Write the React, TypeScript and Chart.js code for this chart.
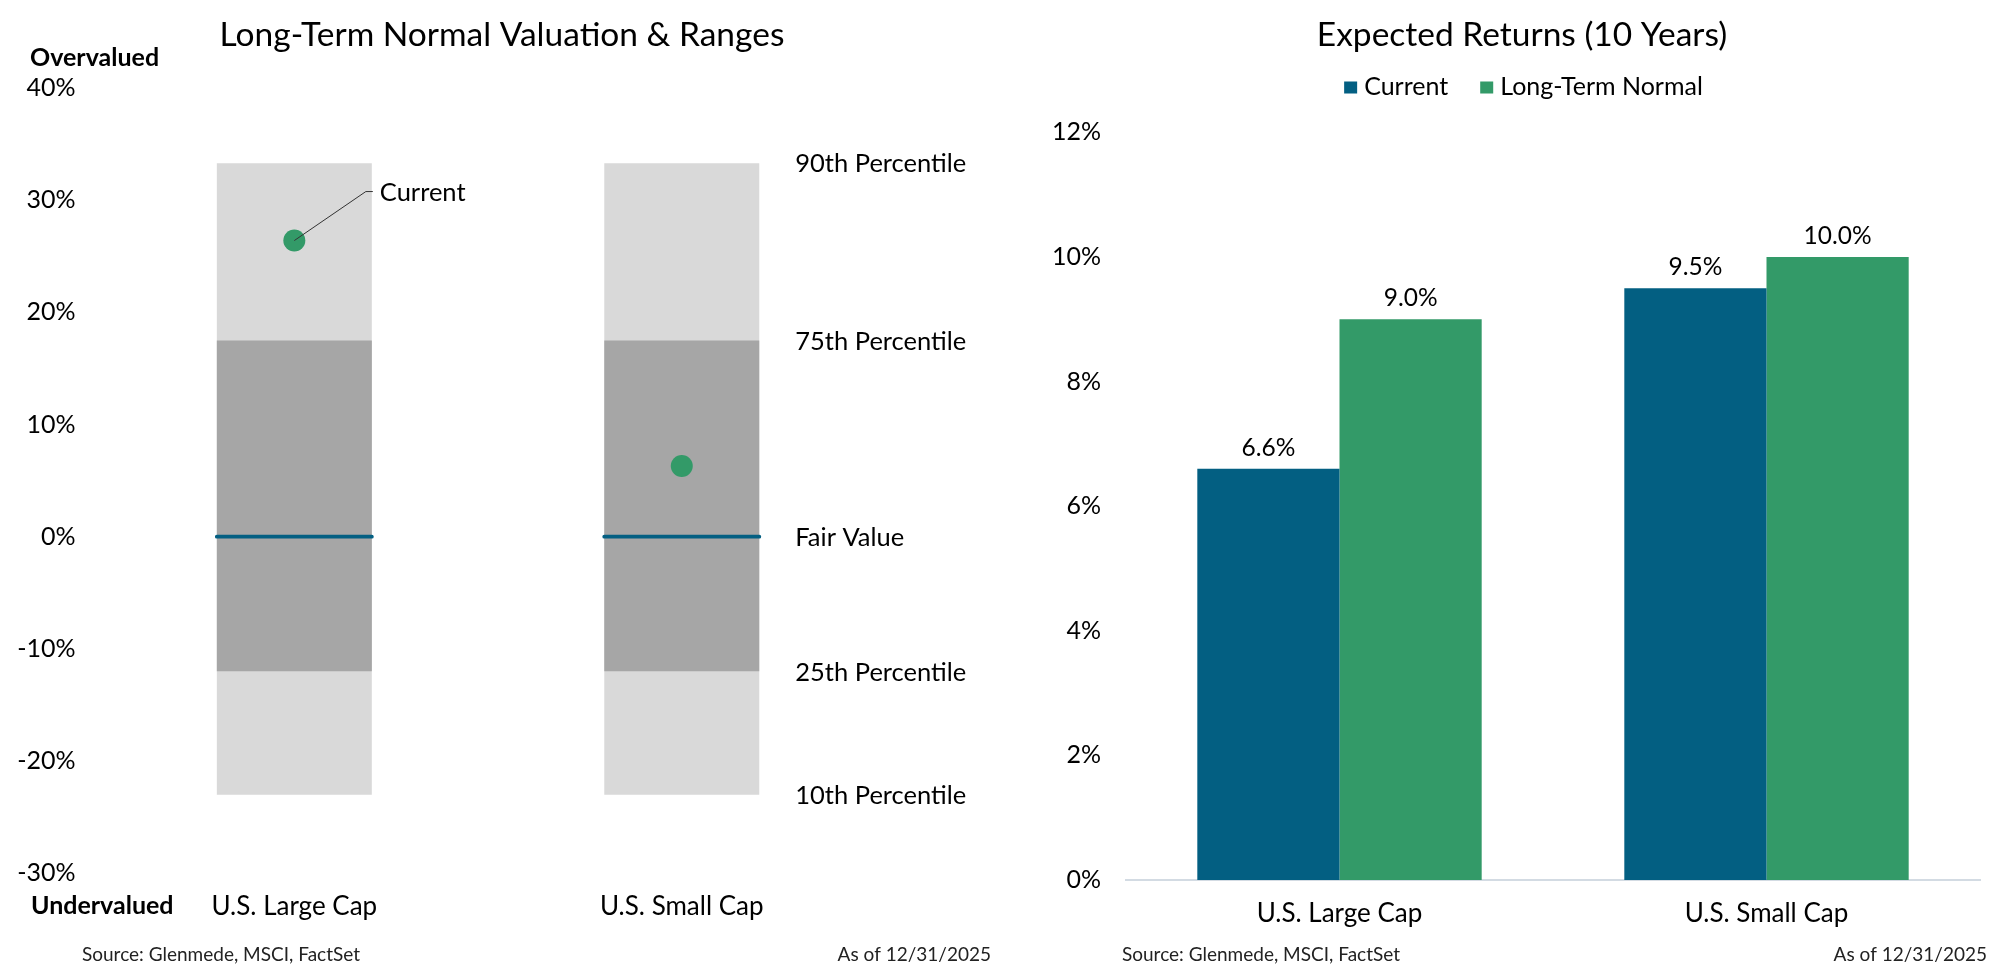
import React, { useEffect, useRef } from "react";
import { Chart, registerables } from "chart.js";

Chart.register(...registerables);
Chart.defaults.font.family = "Lato";

// ---- Left chart data: valuation ranges ----
const valCategories = ["U.S. Large Cap", "U.S. Small Cap"];
const pct10 = [-23, -23];
const pct25 = [-12, -12];
const pct75 = [17.5, 17.5];
const pct90 = [33.3, 33.3];
const fairValue = [0, 0];
const currentValuation = [26.4, 6.3];
const percentileLabels = ["90th Percentile", "75th Percentile", "Fair Value", "25th Percentile", "10th Percentile"];
const valMin = -30;
const valMax = 40;
const valStep = 10;

// ---- Right chart data: expected returns ----
const retCategories = ["U.S. Large Cap", "U.S. Small Cap"];
const retSeriesNames = ["Current", "Long-Term Normal"];
const retCurrent = [6.6, 9.5];
const retNormal = [9.0, 10.0];
const retMin = 0;
const retMax = 12;
const retStep = 2;

const BLUE = "#035f82";
const GREEN = "#339a68";
const LIGHT = "#d9d9d9";
const DARK = "#a6a6a6";
const TEXT = "#000000";

const leftTextPlugin = {
  id: "leftText",
  afterDraw(chart: any) {
    const { ctx } = chart;
    const y = chart.scales.y;
    ctx.save();
    ctx.fillStyle = TEXT;
    ctx.textBaseline = "alphabetic";
    ctx.font = "33.5px Lato";
    ctx.textAlign = "center";
    ctx.fillText("Long-Term Normal Valuation & Ranges", 502, 46);

    ctx.font = "bold 25px Lato";
    ctx.textAlign = "left";
    ctx.fillText("Overvalued", 30, 66);
    ctx.fillText("Undervalued", 31, 914);

    // percentile labels next to last bar
    const lightMeta = chart.getDatasetMeta(3);
    const last = valCategories.length - 1;
    const lastBar = lightMeta.data[last];
    const lx = lastBar.x + lastBar.width / 2 + 36;
    const vals = [pct90[last], pct75[last], fairValue[last], pct25[last], pct10[last]];
    ctx.font = "25.5px Lato";
    ctx.textBaseline = "middle";
    percentileLabels.forEach((t, i) => {
      ctx.fillText(t, lx, y.getPixelForValue(vals[i]) + 1);
    });

    // "Current" annotation for first point
    const dot = chart.getDatasetMeta(0).data[0];
    const bar0 = lightMeta.data[0];
    const right = bar0.x + bar0.width / 2;
    const ey = dot.y - 49;
    ctx.strokeStyle = "#333333";
    ctx.lineWidth = 1;
    ctx.beginPath();
    ctx.moveTo(dot.x, dot.y);
    ctx.lineTo(right - 6, ey);
    ctx.lineTo(right + 1, ey);
    ctx.stroke();
    ctx.textBaseline = "alphabetic";
    ctx.font = "25.5px Lato";
    ctx.fillText("Current", right + 8, ey + 9);

    // footer
    ctx.font = "19px Lato";
    ctx.fillStyle = "#222222";
    ctx.textAlign = "left";
    ctx.fillText("Source: Glenmede, MSCI, FactSet", 82, 961);
    ctx.textAlign = "right";
    ctx.fillText("As of 12/31/2025", 991, 961);
    ctx.restore();
  },
};

const rightTextPlugin = {
  id: "rightText",
  afterDraw(chart: any) {
    const { ctx } = chart;
    ctx.save();
    ctx.fillStyle = TEXT;
    ctx.textBaseline = "alphabetic";
    ctx.font = "33.5px Lato";
    ctx.textAlign = "center";
    ctx.fillText("Expected Returns (10 Years)", 522, 46);

    // legend
    ctx.font = "25px Lato";
    ctx.textAlign = "left";
    const colors = [BLUE, GREEN];
    const boxW = 13;
    const gapBox = 7;
    const gapItem = 32;
    let total = 0;
    const widths = retSeriesNames.map((n) => ctx.measureText(n).width);
    widths.forEach((w, i) => {
      total += boxW + gapBox + w + (i < widths.length - 1 ? gapItem : 0);
    });
    let lx = 523.5 - total / 2;
    retSeriesNames.forEach((n, i) => {
      ctx.fillStyle = colors[i];
      ctx.fillRect(lx, 81.5, boxW, 12);
      ctx.fillStyle = TEXT;
      ctx.fillText(n, lx + boxW + gapBox, 95);
      lx += boxW + gapBox + widths[i] + gapItem;
    });

    // data labels
    ctx.font = "24.5px Lato";
    ctx.textAlign = "center";
    chart.data.datasets.forEach((ds: any, di: number) => {
      const meta = chart.getDatasetMeta(di);
      meta.data.forEach((el: any, i: number) => {
        ctx.fillText(ds.data[i].toFixed(1) + "%", el.x, el.y - 13);
      });
    });

    // footer
    ctx.font = "19px Lato";
    ctx.fillStyle = "#222222";
    ctx.textAlign = "left";
    ctx.fillText("Source: Glenmede, MSCI, FactSet", 122, 961);
    ctx.textAlign = "right";
    ctx.fillText("As of 12/31/2025", 987, 961);
    ctx.restore();
  },
};

export default function App() {
  const leftRef = useRef<HTMLCanvasElement>(null);
  const rightRef = useRef<HTMLCanvasElement>(null);

  useEffect(() => {
    const left = new Chart(leftRef.current as HTMLCanvasElement, {
      type: "bar",
      data: {
        labels: valCategories,
        datasets: [
          {
            type: "line",
            label: "Current",
            data: currentValuation,
            showLine: false,
            pointRadius: 11,
            pointBackgroundColor: GREEN,
            pointBorderWidth: 0,
            borderColor: GREEN,
            order: 0,
          } as any,
          {
            label: "Fair Value",
            data: fairValue.map((v) => [v - 0.17, v + 0.17]),
            backgroundColor: BLUE,
            grouped: false,
            barPercentage: 0.41,
            categoryPercentage: 1,
            borderRadius: 2,
            borderSkipped: false,
            order: 1,
          } as any,
          {
            label: "25th-75th",
            data: pct25.map((v, i) => [v, pct75[i]]),
            backgroundColor: DARK,
            grouped: false,
            barPercentage: 0.4,
            categoryPercentage: 1,
            order: 2,
          } as any,
          {
            label: "10th-90th",
            data: pct10.map((v, i) => [v, pct90[i]]),
            backgroundColor: LIGHT,
            grouped: false,
            barPercentage: 0.4,
            categoryPercentage: 1,
            order: 3,
          } as any,
        ],
      },
      options: {
        responsive: false,
        animation: false,
        devicePixelRatio: 1,
        events: [],
        layout: { padding: { left: 0, right: 124.5, top: 88, bottom: 0 } },
        plugins: { legend: { display: false }, tooltip: { enabled: false }, title: { display: false } },
        scales: {
          x: {
            offset: true,
            grid: { display: false, drawTicks: false },
            border: { display: false },
            ticks: { color: TEXT, font: { size: 26, family: "Lato" }, padding: 18 },
            afterFit: (s: any) => {
              s.height = 106.8;
            },
          },
          y: {
            min: valMin,
            max: valMax,
            grid: { display: false, drawTicks: false },
            border: { display: false },
            ticks: {
              stepSize: valStep,
              color: TEXT,
              font: { size: 25, family: "Lato" },
              padding: 25,
              callback: (v: any) => v + "%",
            },
            afterFit: (s: any) => {
              s.width = 100.6;
            },
          },
        },
      } as any,
      plugins: [leftTextPlugin],
    });

    const right = new Chart(rightRef.current as HTMLCanvasElement, {
      type: "bar",
      data: {
        labels: retCategories,
        datasets: [
          {
            label: retSeriesNames[0],
            data: retCurrent,
            backgroundColor: BLUE,
            categoryPercentage: 0.666,
            barPercentage: 1,
          },
          {
            label: retSeriesNames[1],
            data: retNormal,
            backgroundColor: GREEN,
            categoryPercentage: 0.666,
            barPercentage: 1,
          },
        ],
      },
      options: {
        responsive: false,
        animation: false,
        devicePixelRatio: 1,
        events: [],
        layout: { padding: { left: 0, right: 20, top: 132.4, bottom: 0 } },
        plugins: { legend: { display: false }, tooltip: { enabled: false }, title: { display: false } },
        scales: {
          x: {
            grid: { display: false, drawTicks: false },
            border: { display: true, color: "#d3dbe3", width: 2 },
            ticks: { color: TEXT, font: { size: 26, family: "Lato" }, padding: 18 },
            afterFit: (s: any) => {
              s.height = 100;
            },
          },
          y: {
            min: retMin,
            max: retMax,
            grid: { display: false, drawTicks: false },
            border: { display: false },
            ticks: {
              stepSize: retStep,
              color: TEXT,
              font: { size: 25, family: "Lato" },
              padding: 25,
              callback: (v: any) => v + "%",
            },
            afterFit: (s: any) => {
              s.width = 126;
            },
          },
        },
      } as any,
      plugins: [rightTextPlugin],
    });

    return () => {
      left.destroy();
      right.destroy();
    };
  }, []);

  return (
    <div style={{ position: "absolute", left: 0, top: 0, width: 2000, height: 980, background: "#ffffff" }}>
      <canvas ref={leftRef} width={1000} height={980} style={{ position: "absolute", left: 0, top: 0 }} />
      <canvas ref={rightRef} width={1000} height={980} style={{ position: "absolute", left: 1000, top: 0 }} />
    </div>
  );
}
